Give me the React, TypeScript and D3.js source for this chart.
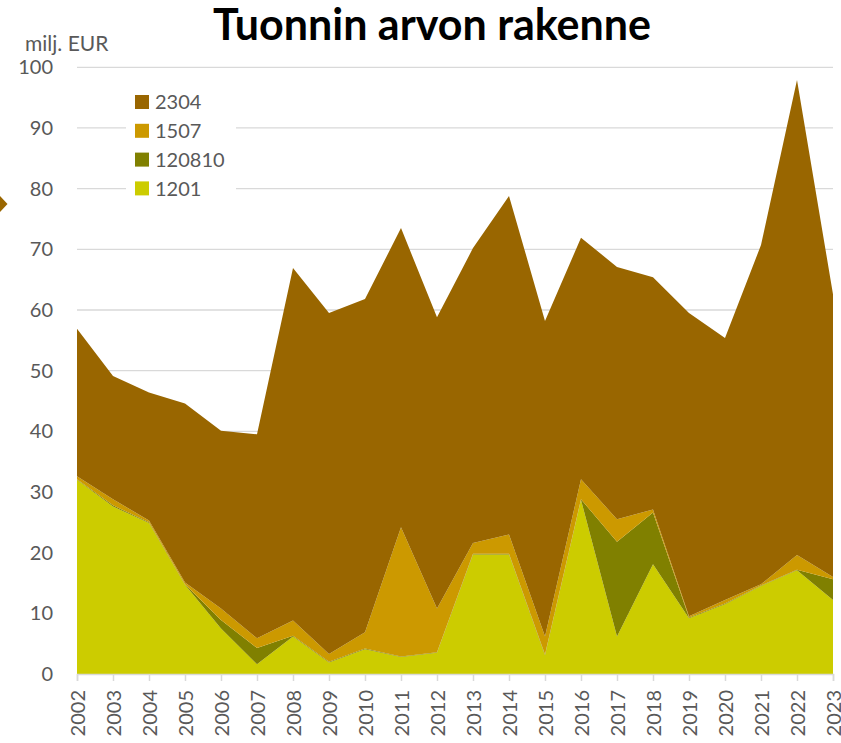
import React, { useEffect, useRef } from "react";
import * as d3 from "d3";

const years = [2002, 2003, 2004, 2005, 2006, 2007, 2008, 2009, 2010, 2011, 2012,
  2013, 2014, 2015, 2016, 2017, 2018, 2019, 2020, 2021, 2022, 2023];

// milj. EUR
const v1201 = [32.0, 27.6, 24.9, 14.7, 7.5, 1.6, 6.2, 1.9, 4.1, 2.8, 3.5,
  19.7, 19.7, 3.1, 28.7, 6.2, 18.1, 9.2, 11.5, 14.5, 17.1, 12.2];
const v120810 = [0.1, 0.2, 0.1, 0.1, 1.4, 2.7, 0.1, 0.1, 0.1, 0.1, 0.1,
  0.1, 0.1, 0.1, 0.1, 15.6, 8.5, 0.1, 0.1, 0.1, 0.1, 3.4];
const v1507 = [0.5, 1.0, 0.3, 0.3, 1.9, 1.6, 2.5, 1.3, 2.7, 21.3, 7.2,
  1.8, 3.2, 3.0, 3.3, 3.7, 0.5, 0.2, 0.6, 0.2, 2.4, 0.4];
const totals = [56.9, 49.1, 46.4, 44.6, 40.1, 39.5, 66.9, 59.5, 61.8, 73.5, 58.8,
  70.2, 78.8, 58.2, 71.9, 67.1, 65.4, 59.5, 55.4, 70.7, 97.9, 62.6];
const v2304 = totals.map((t, i) => +(t - v1201[i] - v120810[i] - v1507[i]).toFixed(1));

const seriesKeys = ["1201", "120810", "1507", "2304"];
const seriesColors = ["#CCCC00", "#808000", "#CC9900", "#996600"];
const yTicks = [0, 10, 20, 30, 40, 50, 60, 70, 80, 90, 100];

const font = "Lato, 'Open Sans', sans-serif";

export default function App() {
  const ref = useRef<SVGSVGElement>(null);

  useEffect(() => {
    const svg = d3.select(ref.current);
    svg.selectAll("*").remove();

    const x = d3.scaleLinear().domain([2002, 2023]).range([77, 833]);
    const y = d3.scaleLinear().domain([0, 100]).range([674, 67.3]);

    const rows = years.map((yr, i) => ({
      year: yr,
      "1201": v1201[i],
      "120810": v120810[i],
      "1507": v1507[i],
      "2304": v2304[i],
    }));
    const stack = d3.stack<any>().keys(seriesKeys);
    const layers = stack(rows);

    // gridlines
    svg.append("g").selectAll("line").data(yTicks.slice(1)).join("line")
      .attr("x1", 77).attr("x2", 833)
      .attr("y1", (d) => y(d)).attr("y2", (d) => y(d))
      .attr("stroke", "#d9d9d9").attr("stroke-width", 1.3);

    const area = d3.area<any>()
      .x((d) => x(d.data.year))
      .y0((d) => y(d[0]))
      .y1((d) => y(d[1]));

    svg.append("g").selectAll("path").data(layers).join("path")
      .attr("d", (d) => area(d) as string)
      .attr("fill", (_d, i) => seriesColors[i]);

    // x axis
    const xAxis = svg.append("g").attr("transform", "translate(0,674)")
      .call(d3.axisBottom(x).tickValues(years).tickFormat((d) => String(d)).tickSize(7).tickPadding(8));
    xAxis.select(".domain").attr("stroke", "#d9d9d9").attr("stroke-width", 1.5);
    xAxis.selectAll(".tick line").attr("stroke", "#d9d9d9").attr("stroke-width", 1.5);
    xAxis.selectAll(".tick text")
      .attr("font-family", font).attr("font-size", 20).attr("fill", "#595959")
      .attr("transform", "rotate(-90)")
      .attr("text-anchor", "end")
      .attr("x", -16).attr("y", 0).attr("dy", "0.35em");

    // y axis labels
    svg.append("g").selectAll("text").data(yTicks).join("text")
      .attr("x", 53).attr("y", (d) => y(d)).attr("dy", "0.35em")
      .attr("text-anchor", "end")
      .attr("font-family", font).attr("font-size", 20).attr("fill", "#595959")
      .text((d) => d);

    svg.append("text").attr("x", 25).attr("y", 51)
      .attr("font-family", font).attr("font-size", 21).attr("fill", "#595959")
      .text("milj. EUR");

    svg.append("text").attr("x", 432).attr("y", 40).attr("text-anchor", "middle")
      .attr("font-family", font).attr("font-weight", "bold").attr("font-size", 43).attr("fill", "#000")
      .text("Tuonnin arvon rakenne");

    // legend
    const legend = svg.append("g");
    legend.append("rect").attr("x", 126).attr("y", 84).attr("width", 110).attr("height", 118).attr("fill", "#fff");
    const legendKeys = ["2304", "1507", "120810", "1201"];
    const legendColors = ["#996600", "#CC9900", "#808000", "#CCCC00"];
    legendKeys.forEach((k, i) => {
      const cy = 102 + i * 28.8;
      legend.append("rect").attr("x", 135).attr("y", cy - 7).attr("width", 14).attr("height", 14)
        .attr("fill", legendColors[i]);
      legend.append("text").attr("x", 155).attr("y", cy).attr("dy", "0.36em")
        .attr("font-family", font).attr("font-size", 20).attr("fill", "#595959")
        .text(k);
    });

    // cropped arrow marker at left edge
    svg.append("polygon").attr("points", "0,196 7.5,204 0,212").attr("fill", "#996600");
  }, []);

  return (
    <svg ref={ref} width={841} height={743}
      style={{ position: "absolute", left: 0, top: 0, background: "#fff" }} />
  );
}
